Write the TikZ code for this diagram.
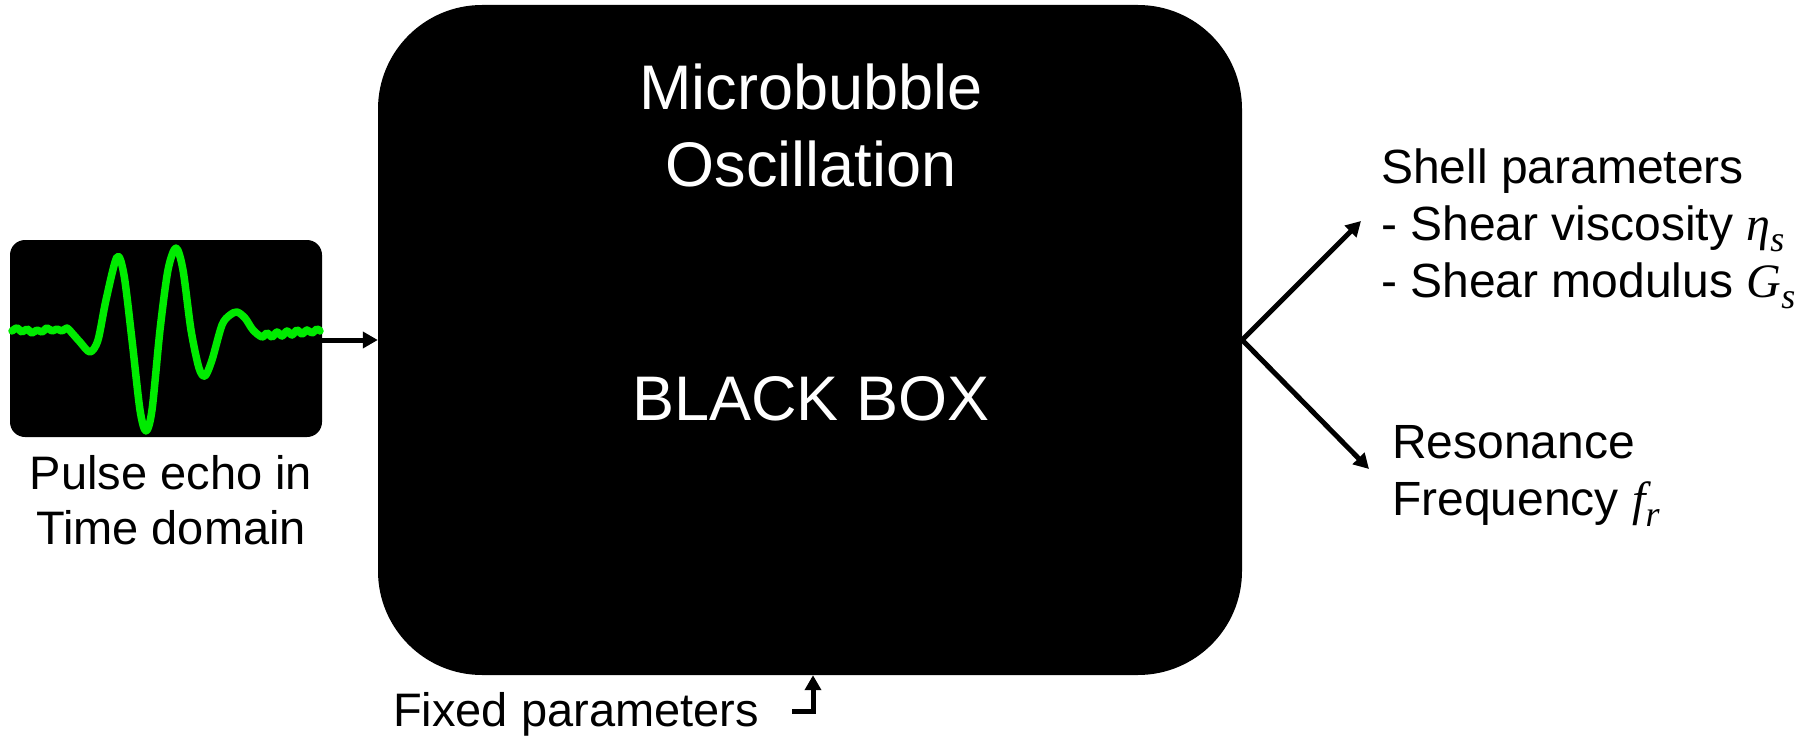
\documentclass[tikz,border=0pt]{standalone}
\usepackage{fontspec}
\setmainfont{Liberation Sans}
\newfontfamily\symfont{Liberation Serif}
\usetikzlibrary{arrows.meta}
\definecolor{trace}{RGB}{0,235,0}
% italic serif symbol with a lowered subscript
\newcommand{\symsub}[2]{{\symfont\itshape #1\raisebox{-0.22em}{\fontsize{36}{36}\selectfont #2}}}

\begin{document}
\begin{tikzpicture}[x=1pt,y=-1pt,
  lbl/.style={font=\fontsize{47}{55}\selectfont, inner sep=0pt},
  rlbl/.style={font=\fontsize{48}{57}\selectfont, inner sep=0pt, align=left, anchor=west},
  inbox/.style={text=white, font=\fontsize{63}{77}\selectfont, align=center, inner sep=0pt},
  conn/.style={line width=5pt, -{Triangle[length=15pt,width=16pt]}},
]
\useasboundingbox (0,0) rectangle (1804,738);

% the black box
\node[fill=black, rounded corners=104pt, minimum width=864pt, minimum height=670pt, inner sep=0pt] (box) at (810,340) {};
\node[inbox] (title) at (811,125) {Microbubble\\Oscillation};
\node[inbox] (bb) at (811,399) {BLACK BOX};

% the pulse echo trace
\node[fill=black, rounded corners=15pt, minimum width=312pt, minimum height=197pt, inner sep=0pt] (wave) at (166,338.5) {};
\draw[trace, line width=7.5pt, line join=round, line cap=round] plot[smooth, tension=0.5] coordinates {
  (12,331) (17,328) (22,332) (27,329) (32,333) (37,330) (42,332) (47,328) (52,331) (57,329) (62,331) (67,328)
  (72,333) (80,342) (90,352) (98,340) (106,300) (117,257) (124,275) (132,340) (140,410)
  (146,431) (152,410) (160,330) (168,270) (176,248) (183,270) (191,330) (199,368) (205,376)
  (212,360) (222,325) (230,315) (237,312) (245,318) (253,330) (262,337) (267,333) (272,337)
  (277,332) (282,336) (287,331) (292,335) (297,330) (302,334) (307,330) (312,333) (317,329) (320,331)};

% labels
\node[lbl, align=center] (pulse) at (171,500) {Pulse echo in\\Time domain};
\node[lbl, anchor=west] (fixed) at (393,714) {Fixed parameters};
\node[rlbl] (shell) at (1381,229) {Shell parameters\\- Shear viscosity \symsub{η}{s}\\- Shear modulus \symsub{G}{s}};
\node[rlbl] (res) at (1392,476) {Resonance\\Frequency \symsub{f}{r}};

% connectors
\coordinate (shellTip) at (1361,221);
\coordinate (resTip) at (1369,469);
\coordinate (fixStart) at (792,711);
\draw[conn] (wave.east |- box.west) -- (box.west);
\draw[conn] (box.east) -- (shellTip);
\draw[conn] (box.east) -- (resTip);
\draw[conn] (fixStart) -| ([xshift=3pt]box.south);
\end{tikzpicture}
\end{document}
